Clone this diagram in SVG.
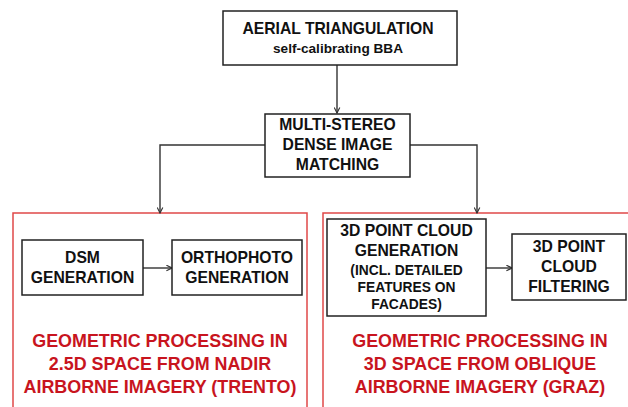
<svg xmlns="http://www.w3.org/2000/svg" width="628" height="407" viewBox="0 0 628 407">
  <style>
    .box { fill: #fff; stroke: #222; stroke-width: 1.5; }
    .frame { fill: none; stroke: #e04848; stroke-width: 1.5; }
    .wire { fill: none; stroke: #333; stroke-width: 1.4; }
    .lbl { font-family: "Liberation Sans", Arial, sans-serif; font-weight: bold; fill: #111; text-anchor: middle; font-size: 15.7px; }
    .sm { font-size: 13.8px; }
    .note { font-family: "Liberation Sans", Arial, sans-serif; font-weight: bold; fill: #c8141e; text-anchor: middle; font-size: 17.9px; }
  </style>
  <defs>
    <marker id="arr" viewBox="0 0 10 10" refX="9" refY="5" markerWidth="7" markerHeight="7" markerUnits="userSpaceOnUse" orient="auto">
      <path d="M1,1 L9,5 L1,9" fill="none" stroke="#333" stroke-width="1.6"/>
    </marker>
  </defs>
  <rect width="628" height="407" fill="#fff"/>

  <!-- processing frames -->
  <g id="frame-trento">
    <path class="frame" d="M13,410 V213 H307 V410"/>
    <text class="note" x="160" y="347">GEOMETRIC PROCESSING IN</text>
    <text class="note" x="160" y="370">2.5D SPACE FROM NADIR</text>
    <text class="note" x="160" y="393">AIRBORNE IMAGERY (TRENTO)</text>
  </g>
  <g id="frame-graz">
    <path class="frame" d="M323,410 V213 H630"/>
    <text class="note" x="480" y="347">GEOMETRIC PROCESSING IN</text>
    <text class="note" x="480" y="370">3D SPACE FROM OBLIQUE</text>
    <text class="note" x="480" y="393">AIRBORNE IMAGERY (GRAZ)</text>
  </g>

  <!-- connectors -->
  <g id="connectors">
    <path class="wire" d="M337,65 V113" marker-end="url(#arr)"/>
    <path class="wire" d="M265,145 H160 V213" marker-end="url(#arr)"/>
    <path class="wire" d="M410,145 H477 V213" marker-end="url(#arr)"/>
    <path class="wire" d="M143,268 H172" marker-end="url(#arr)"/>
    <path class="wire" d="M486,268 H512" marker-end="url(#arr)"/>
  </g>

  <g id="aerial-triangulation">
    <rect class="box" x="223" y="11" width="234" height="54"/>
    <text class="lbl" x="338" y="34">AERIAL TRIANGULATION</text>
    <text class="lbl" x="338" y="53" style="font-size:13.6px">self-calibrating BBA</text>
  </g>

  <g id="dense-matching">
    <rect class="box" x="265" y="114" width="145" height="63"/>
    <text class="lbl" x="337.5" y="130">MULTI-STEREO</text>
    <text class="lbl" x="337.5" y="150">DENSE IMAGE</text>
    <text class="lbl" x="337.5" y="170">MATCHING</text>
  </g>

  <g id="dsm">
    <rect class="box" x="22" y="240" width="121" height="55"/>
    <text class="lbl" x="82.5" y="263">DSM</text>
    <text class="lbl" x="82.5" y="283">GENERATION</text>
  </g>

  <g id="orthophoto">
    <rect class="box" x="172" y="240" width="130" height="55"/>
    <text class="lbl" x="237" y="263">ORTHOPHOTO</text>
    <text class="lbl" x="237" y="283">GENERATION</text>
  </g>

  <g id="point-cloud">
    <rect class="box" x="327" y="219" width="159" height="97"/>
    <text class="lbl" x="406.5" y="236">3D POINT CLOUD</text>
    <text class="lbl" x="406.5" y="256">GENERATION</text>
    <text class="lbl sm" x="406.5" y="275">(INCL. DETAILED</text>
    <text class="lbl sm" x="406.5" y="292">FEATURES ON</text>
    <text class="lbl sm" x="406.5" y="309">FACADES)</text>
  </g>

  <g id="filtering">
    <rect class="box" x="512" y="234" width="114" height="66"/>
    <text class="lbl" x="569" y="252">3D POINT</text>
    <text class="lbl" x="569" y="272">CLOUD</text>
    <text class="lbl" x="569" y="292">FILTERING</text>
  </g>
</svg>
